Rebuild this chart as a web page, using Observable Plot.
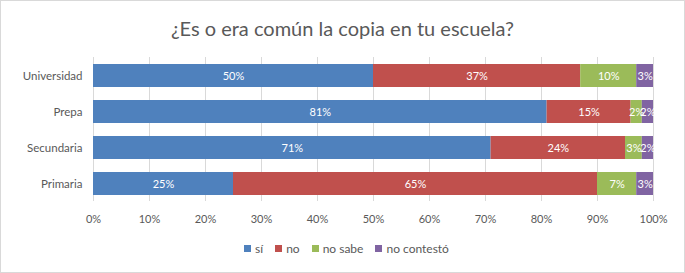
<!DOCTYPE html>
<html>
<head>
<meta charset="utf-8">
<script src="https://cdn.jsdelivr.net/npm/d3@7"></script>
<script src="https://cdn.jsdelivr.net/npm/@observablehq/plot@0.6"></script>
<style>
  html, body { margin: 0; padding: 0; background: #fff; }
  #chart {
    width: 685px; height: 273px; box-sizing: border-box;
    border: 1px solid #d9d9d9; background: #fff; overflow: hidden;
    font-family: Lato, "Open Sans", sans-serif; color: #595959;
  }
  #title {
    height: 34px; line-height: 34px; padding-top: 10px;
    text-align: center; font-size: 20px; color: #595959;
  }
  #legend {
    height: 26px; display: flex; justify-content: center; align-items: center;
    font-size: 12px; color: #595959; padding-left: 8px;
  }
  .item { display: flex; align-items: center; margin: 0 6px; }
  .sw { width: 7px; height: 7px; margin-right: 4px; }
</style>
</head>
<body>
<div id="chart">
  <div id="title">¿Es o era común la copia en tu escuela?</div>
  <div id="plot"></div>
  <div id="legend"></div>
</div>
<script>
const categories = ["Universidad", "Prepa", "Secundaria", "Primaria"];
const series = ["sí", "no", "no sabe", "no contestó"];
const si = [50, 81, 71, 25];
const no = [37, 15, 24, 65];
const noSabe = [10, 2, 3, 7];
const noContesto = [3, 2, 2, 3];
const colors = ["#4F81BD", "#C0504D", "#9BBB59", "#8064A2"];
const xTicks = [0, 10, 20, 30, 40, 50, 60, 70, 80, 90, 100];

const seriesValues = [si, no, noSabe, noContesto];
const data = [];
categories.forEach((c, i) => {
  series.forEach((s, j) => data.push({cat: c, series: s, value: seriesValues[j][i]}));
});

const plot = Plot.plot({
  width: 683,
  height: 190,
  marginLeft: 92,
  marginRight: 31,
  marginTop: 12,
  marginBottom: 34,
  style: {fontFamily: "Lato, 'Open Sans', sans-serif", color: "#595959", background: "transparent"},
  x: {domain: [0, 100]},
  y: {domain: categories, paddingInner: 0.37, paddingOuter: 0.185},
  color: {domain: series, range: colors},
  marks: [
    Plot.ruleX(xTicks, {x: d => d, stroke: "#d9d9d9", strokeWidth: 1}),
    Plot.barX(data, Plot.stackX({x: "value", y: "cat", z: "series", fill: "series", order: series})),
    Plot.text(data, Plot.stackX({x: "value", y: "cat", z: "series", order: series, text: d => d.value + "%", fill: "white", fontSize: 11})),
    Plot.axisX({ticks: xTicks, tickFormat: d => d + "%", tickSize: 0, tickPadding: 14, fontSize: 11, label: null, fill: "#595959"}),
    Plot.axisY({tickSize: 0, tickPadding: 11, fontSize: 11.5, label: null, fill: "#595959"})
  ]
});
document.getElementById("plot").appendChild(plot);

const legend = document.getElementById("legend");
series.forEach((s, j) => {
  const it = document.createElement("div");
  it.className = "item";
  const sw = document.createElement("div");
  sw.className = "sw";
  sw.style.background = colors[j];
  const t = document.createElement("span");
  t.textContent = s;
  it.appendChild(sw); it.appendChild(t);
  legend.appendChild(it);
});
</script>
</body>
</html>
